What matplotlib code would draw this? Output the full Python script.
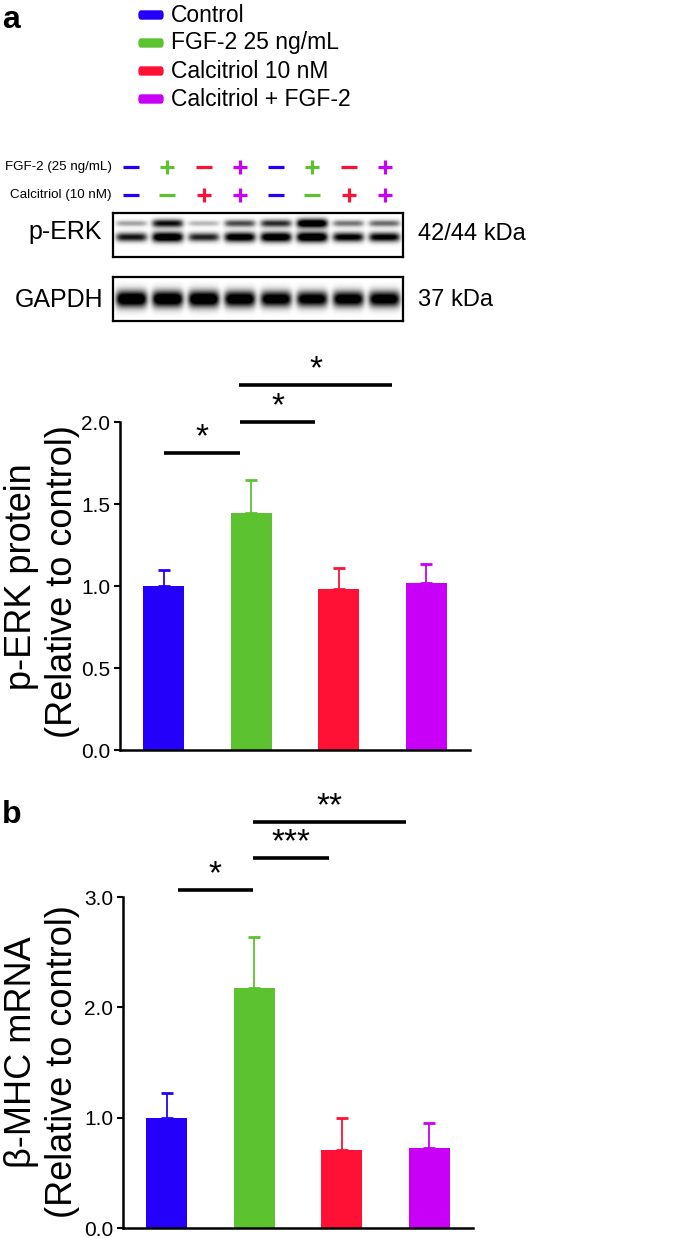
import numpy as np
import matplotlib.pyplot as plt
from matplotlib.patches import FancyBboxPatch

plt.rcParams['font.family'] = ['Liberation Sans', 'DejaVu Sans']

groups = ["Control", "FGF-2 25 ng/mL", "Calcitriol 10 nM", "Calcitriol + FGF-2"]
colors = ["#2400FA", "#5DC22F", "#FF1035", "#C800F8"]

# panel a: p-ERK protein
perk_mean = [1.00, 1.445, 0.98, 1.02]
perk_err = [0.10, 0.20, 0.13, 0.115]
perk_sig = [(0.0, 0.87, 1.81, "*"), (0.87, 1.73, 2.0, "*"), (0.86, 2.61, 2.225, "*")]

# panel b: beta-MHC mRNA
mhc_mean = [1.00, 2.18, 0.71, 0.725]
mhc_err = [0.22, 0.46, 0.29, 0.23]
mhc_sig = [(0.13, 0.98, 3.06, "*"), (0.98, 1.85, 3.35, "***"), (0.98, 2.73, 3.68, "**")]

# western blot lanes
fgf_signs = ["-", "+", "-", "+", "-", "+", "-", "+"]
cal_signs = ["-", "-", "+", "+", "-", "-", "+", "+"]
erk44_int = [0.28, 0.75, 0.22, 0.55, 0.65, 0.98, 0.42, 0.45]
erk42_int = [0.72, 0.97, 0.68, 0.9, 0.95, 1.0, 0.82, 0.82]
gapdh_int = [1.0, 1.0, 1.0, 0.96, 0.92, 0.9, 0.92, 0.92]

W, H = 685, 1238
fig = plt.figure(figsize=(W / 100, H / 100), dpi=100)


def px_axes(l, t, r, b):
    return fig.add_axes([l / W, 1 - b / H, (r - l) / W, (b - t) / H])


def ftext(x, y, s, **kw):
    fig.text(x / W, 1 - y / H, s, **kw)


# legend + panel labels
ftext(2, 20, "a", fontsize=23, fontweight="bold", va="center")
ftext(2, 815, "b", fontsize=23, fontweight="bold", va="center")
for i, (g, c) in enumerate(zip(groups, colors)):
    y = 15 + 28 * i
    fig.patches.append(FancyBboxPatch((139 / W, 1 - (y + 4) / H), 24 / W, 8 / H,
                                      boxstyle="round,pad=0,rounding_size=0.003",
                                      transform=fig.transFigure, color=c))
    ftext(171, y, g, fontsize=16.5, va="center")


# blot
def blot(l, t, r, b, bands):
    ax = px_axes(l, t, r, b)
    xs = np.linspace(0, 8, r - l)
    ys = np.linspace(0, 1, b - t)
    X, Y = np.meshgrid(xs, ys)
    img = np.zeros_like(X)
    for yc, ints, sy0 in bands:
        for i, v in enumerate(ints):
            sy = sy0 * (0.6 + 0.6 * v)
            img += v * np.exp(-(np.abs(X - i - 0.5) / 0.43) ** 6) * np.exp(-((Y - yc) / sy) ** 2)
    ax.imshow(np.clip(img * 1.3, 0, 1), cmap="gray_r", vmin=0, vmax=1, aspect="auto",
              extent=(0, 8, 1, 0), interpolation="bilinear")
    ax.set_xticks([])
    ax.set_yticks([])
    for s in ax.spines.values():
        s.set_linewidth(1.6)
    return ax


blot(113, 213, 403, 257, [(0.23, erk44_int, 0.09), (0.55, erk42_int, 0.1)])
blot(113, 277, 403, 321, [(0.5, gapdh_int, 0.16)])

ftext(112, 167, "FGF-2 (25 ng/mL)", fontsize=9.6, ha="right", va="center")
ftext(112, 195, "Calcitriol (10 nM)", fontsize=9.6, ha="right", va="center")

ov = fig.add_axes([0, 0, 1, 1])
ov.set_xlim(0, W)
ov.set_ylim(H, 0)
ov.axis("off")
for i in range(8):
    x = 113 + 36.25 * (i + 0.5)
    c = colors[i % 4]
    for y, s in [(167, fgf_signs[i]), (195, cal_signs[i])]:
        if s == "-":
            ov.plot(x, y, marker="_", ms=12, mew=2.3, color=c)
        else:
            ov.plot(x, y, marker="+", ms=10.5, mew=2.3, color=c)

ftext(65, 232, "p-ERK", fontsize=18, ha="center", va="center")
ftext(418, 234, "42/44 kDa", fontsize=17, ha="left", va="center")
ftext(59, 300, "GAPDH", fontsize=18, ha="center", va="center")
ftext(418, 300, "37 kDa", fontsize=17, ha="left", va="center")


def bar_panel(ax, means, errs, sig, ymax_axis, ticks, fmt):
    x = np.arange(len(means))
    ax.bar(x, means, width=0.47, color=colors, edgecolor="none", zorder=2)
    for xi, m, e, c in zip(x, means, errs, colors):
        ax.errorbar(xi, m, yerr=[[0], [e]], fmt="none", ecolor=c, elinewidth=1.3,
                    capsize=4, capthick=2, zorder=1)
    ax.set_xlim(-0.5, 3.5)
    ax.set_xticks([])
    ax.spines[["top", "right"]].set_visible(False)
    ax.spines["left"].set_bounds(0, ymax_axis)
    for s in ["left", "bottom"]:
        ax.spines[s].set_linewidth(1.8)
    ax.set_yticks(ticks)
    ax.set_yticklabels([fmt.format(t) for t in ticks], fontsize=15)
    ax.tick_params(axis="y", length=4, width=1.5, pad=3)
    for x0, x1, y, s in sig:
        ax.plot([x0, x1], [y, y], color="black", lw=2.6, clip_on=False, solid_capstyle="butt")
        ax.text((x0 + x1) / 2, y, s, fontsize=24, ha="center", va="bottom", clip_on=False)


ax_a = px_axes(120, 750 - 2.4 * 164, 470, 750)
ax_a.set_ylim(0, 2.4)
bar_panel(ax_a, perk_mean, perk_err, perk_sig, 2.0, [0, 0.5, 1.0, 1.5, 2.0], "{:.1f}")

ax_b = px_axes(123, 1228 - 4.0 * 110.3, 473, 1228)
ax_b.set_ylim(0, 4.0)
bar_panel(ax_b, mhc_mean, mhc_err, mhc_sig, 3.0, [0, 1.0, 2.0, 3.0], "{:.1f}")

ylab = dict(fontsize=26, rotation=90, ha="center", va="center")
ftext(22, 577, "p-ERK protein", **ylab)
ftext(63, 582, "(Relative to control)", **ylab)
ftext(22, 1052, "\u03b2-MHC mRNA", **ylab)
ftext(63, 1062, "(Relative to control)", **ylab)

fig.savefig("out.png", dpi=100)
